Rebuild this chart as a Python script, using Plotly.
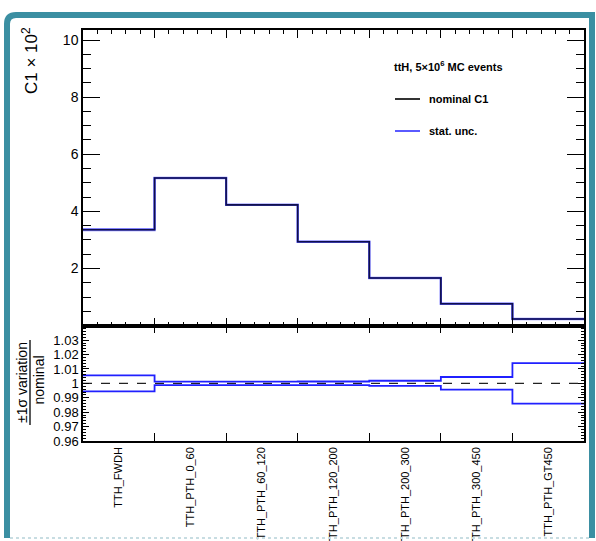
import plotly.graph_objects as go

# ---------------- data ----------------
bins = ["TTH_FWDH", "TTH_PTH_0_60", "TTH_PTH_60_120", "TTH_PTH_120_200",
        "TTH_PTH_200_300", "TTH_PTH_300_450", "TTH_PTH_GT450"]
nominal = [3.36, 5.17, 4.23, 2.94, 1.67, 0.77, 0.235]          # C1 x 10^2
ratio_up = [1.0055, 1.0012, 1.0012, 1.0013, 1.0018, 1.0044, 1.0140]
ratio_down = [0.9945, 0.9988, 0.9988, 0.9987, 0.9982, 0.9956, 0.9860]
upper_ticks = [2, 4, 6, 8, 10]
lower_ticks = [0.96, 0.97, 0.98, 0.99, 1.0, 1.01, 1.02, 1.03]
lower_ticktext = ["0.96", "0.97", "0.98", "0.99", "1", "1.01", "1.02", "1.03"]

# ---------------- geometry ----------------
W, H = 596, 541
ML, MR, MT, MB = 83, 12, 30, 100
PW, PH = W - ML - MR, H - MT - MB
split_px = 325.7
split = (H - MB - split_px) / PH


def px(x):
    return (x - ML) / PW


def py(y):
    return (H - MB - y) / PH


n = len(bins)
edges = list(range(n + 1))
centers = [i + 0.5 for i in range(n)]


def step(vals):
    return vals + [vals[-1]]


FONT = "Liberation Sans, Arial, Helvetica, sans-serif"
BLUE = "#2020ff"

fig = go.Figure()

# upper panel: stat. unc. (blue) and nominal (black)
up_abs = [v * r for v, r in zip(nominal, ratio_up)]
dn_abs = [v * r for v, r in zip(nominal, ratio_down)]
for vals in (up_abs, dn_abs):
    fig.add_trace(go.Scatter(x=edges, y=step(vals), mode="lines", line_shape="hv",
                             line=dict(color=BLUE, width=2.2), opacity=0.55,
                             xaxis="x", yaxis="y", showlegend=False, hoverinfo="skip"))
fig.add_trace(go.Scatter(x=edges, y=step(nominal), mode="lines", line_shape="hv",
                         line=dict(color="#10104a", width=1.6),
                         xaxis="x", yaxis="y", showlegend=False))

# lower panel
fig.add_trace(go.Scatter(x=[edges[0], edges[-1]], y=[1.0, 1.0], mode="lines",
                         line=dict(color="#222222", width=1.3, dash="dash"),
                         xaxis="x2", yaxis="y2", showlegend=False, hoverinfo="skip"))
for vals in (ratio_up, ratio_down):
    fig.add_trace(go.Scatter(x=edges, y=step(vals), mode="lines", line_shape="hv",
                             line=dict(color=BLUE, width=1.8),
                             xaxis="x2", yaxis="y2", showlegend=False))

axis_common = dict(showline=True, linecolor="black", linewidth=1.5, mirror="ticks",
                   ticks="inside", tickcolor="black", showgrid=False, zeroline=False,
                   automargin=False)

fig.update_layout(
    width=W, height=H,
    margin=dict(l=ML, r=MR, t=MT, b=MB),
    plot_bgcolor="white", paper_bgcolor="white",
    font=dict(family=FONT, color="black"),
    xaxis=dict(domain=[0, 1], anchor="y", range=[0, n], tickvals=edges,
               showticklabels=False, ticklen=8, tickwidth=1,
               minor=dict(dtick=0.2, tick0=0, ticklen=4, ticks="inside", tickcolor="black"),
               **axis_common),
    yaxis=dict(domain=[split, 1], anchor="x", range=[0, 10.35], tickvals=upper_ticks,
               ticklen=17, tickwidth=1.2, tickfont=dict(size=14),
               minor=dict(dtick=0.5, tick0=0, ticklen=8, ticks="inside", tickcolor="black"),
               **axis_common),
    xaxis2=dict(domain=[0, 1], anchor="y2", range=[0, n], tickvals=centers, ticktext=bins,
                tickangle=-90, tickfont=dict(size=11), ticklen=0, automargin=False,
                showline=True, linecolor="black", linewidth=1.5, mirror="ticks",
                ticks="", showgrid=False, zeroline=False,
                minor=dict(tickvals=edges[1:-1], ticklen=8, ticks="inside", tickcolor="black")),
    yaxis2=dict(domain=[0, split], anchor="x2", range=[0.96, 1.04], tickvals=lower_ticks,
                ticktext=lower_ticktext, ticklen=6, tickwidth=1, tickfont=dict(size=13),
                minor=dict(dtick=0.002, tick0=0.96, ticklen=3, ticks="inside", tickcolor="black"),
                **axis_common),
)

annotations = [
    dict(text="C1 × 10<sup>2</sup>", x=px(30), y=py(61), textangle=-90,
         font=dict(size=17)),
    dict(text="±1σ variation", x=px(22), y=py(383), textangle=-90, font=dict(size=14)),
    dict(text="nominal", x=px(38.5), y=py(380), textangle=-90, font=dict(size=14)),
    dict(text="<b>ttH, 5×10<sup>6</sup> MC events</b>", x=px(392), y=py(66),
         xanchor="left", font=dict(size=11)),
    dict(text="<b>nominal C1</b>", x=px(427), y=py(99), xanchor="left", font=dict(size=11)),
    dict(text="<b>stat. unc.</b>", x=px(427), y=py(131), xanchor="left", font=dict(size=11)),
]
for a in annotations:
    a.setdefault("xanchor", "center")
    a.update(xref="paper", yref="paper", yanchor="middle", showarrow=False)
fig.update_layout(annotations=annotations)

TEAL = "#3b8fa2"
shapes = [
    # fraction bar of the lower y title
    dict(type="line", x0=px(30), x1=px(30), y0=py(340), y1=py(425),
         line=dict(color="black", width=1.3)),
    # legend samples
    dict(type="line", x0=px(395), x1=px(420), y0=py(99), y1=py(99),
         line=dict(color="#333333", width=2)),
    dict(type="line", x0=px(395), x1=px(420), y0=py(131), y1=py(131),
         line=dict(color="#5a5aff", width=2)),
    # decorative frame
    dict(type="path",
         path=f"M {px(7)},{py(538)} L {px(7)},{py(24)} Q {px(7)},{py(15)} {px(16)},{py(15)} "
              f"L {px(592)},{py(15)} L {px(592)},{py(538)}",
         line=dict(color=TEAL, width=6)),
    dict(type="line", x0=px(10), x1=px(590), y0=py(538), y1=py(538),
         line=dict(color="#c8dde2", width=2, dash="dot")),
]
for s in shapes:
    s.update(xref="paper", yref="paper")
fig.update_layout(shapes=shapes)

fig.write_html("out.html")
